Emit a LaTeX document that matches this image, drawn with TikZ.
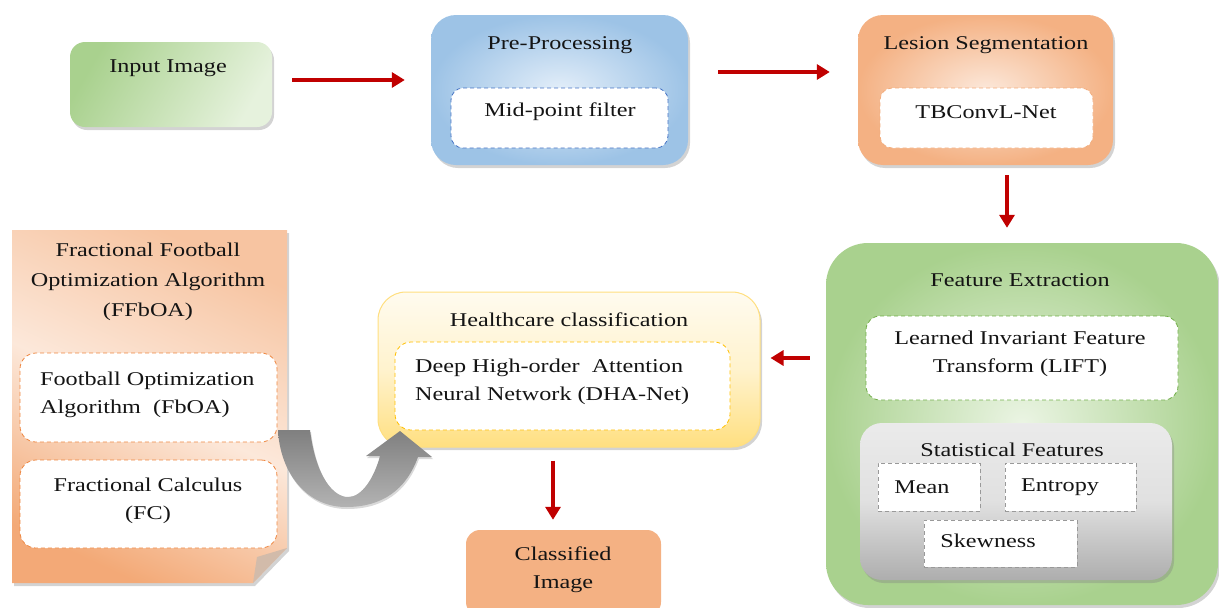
\documentclass[tikz,border=0pt]{standalone}
\usepackage{fontspec}
\setmainfont[FakeStretch=1.24]{Liberation Serif}
\usetikzlibrary{arrows.meta,shadows,calc}
\definecolor{gDark}{HTML}{A9D18E}
\definecolor{gLight}{HTML}{E6F2DD}
\definecolor{gLine}{HTML}{70AD47}
\definecolor{bDark}{HTML}{9DC3E6}
\definecolor{bLight}{HTML}{E3EEF9}
\definecolor{bLine}{HTML}{4472C4}
\definecolor{oDark}{HTML}{F4B183}
\definecolor{oLight}{HTML}{FCE8DA}
\definecolor{oLine}{HTML}{ED7D31}
\definecolor{yDark}{HTML}{FFDF80}
\definecolor{yLight}{HTML}{FFFBEF}
\definecolor{yLine}{HTML}{FFC000}
\definecolor{arrowRed}{HTML}{C00000}
\definecolor{flap}{HTML}{D2BBAA}
\newcommand{\fsz}{\fontsize{19.5}{28}\selectfont}
\tikzset{
  every node/.style={font=\fsz, text=black!92},
  shade/.style={drop shadow={opacity=0.35,shadow xshift=2pt,shadow yshift=-3pt}},
  bigbox/.style={shade, draw=none, inner sep=0pt},
  inner/.style={draw, dashed, line width=0.8pt, dash pattern=on 4pt off 3pt, fill=white, rounded corners=12pt, inner sep=0pt},
  redarrow/.style={draw=arrowRed, line width=4.5pt, -{Triangle[length=13pt,width=15pt]}, arrowRed},
  lbl/.style={inner sep=0pt, align=center}
}
\begin{document}
\begin{tikzpicture}[x=1pt,y=-1pt]
\useasboundingbox (0,0) rectangle (1219,608);
% Input image
\node[bigbox, rounded corners=15pt, minimum width=202pt, minimum height=85pt, left color=gDark, right color=gLight, shading angle=60] (inp) at (171,84.5) {};
\node[lbl] (inpT) at (168,68) {Input Image};
% Pre-processing
\node[bigbox, rounded corners=25pt, minimum width=257pt, minimum height=150pt, inner color=bLight, outer color=bDark] (pre) at (559.5,90) {};
\node[lbl] (preT) at (560,45) {Pre-Processing};
\node[inner, draw=bLine, minimum width=217pt, minimum height=60pt] (mid) at (559.5,118) {};
\node[lbl] (midT) at (560,112) {Mid-point filter};
% Lesion segmentation
\node[bigbox, rounded corners=25pt, minimum width=255pt, minimum height=150pt, inner color=oLight, outer color=oDark] (seg) at (985.5,90) {};
\node[lbl] (segT) at (986,45) {Lesion Segmentation};
\node[inner, draw=oDark!90!oLine, minimum width=213pt, minimum height=60pt] (tbc) at (986.5,118) {};
\node[lbl] (tbcT) at (986,112) {TBConvL-Net};
% Feature extraction
\node[bigbox, rounded corners=42pt, minimum width=392pt, minimum height=362pt, inner color=gLight!80!white, outer color=gDark] (fea) at (1022,424) {};
\node[lbl] (feaT) at (1020,280) {Feature Extraction};
\node[inner, draw=gLine, rounded corners=14pt, minimum width=312pt, minimum height=84pt] (lift) at (1022,358) {};
\node[lbl] (liftT) at (1020,353.5) {Learned Invariant Feature\\Transform (LIFT)};
\node[bigbox, rounded corners=22pt, minimum width=312pt, minimum height=157pt, top color=black!8, bottom color=black!32, middle color=black!12] (stat) at (1016,501.5) {};
\node[lbl] (statT) at (1012,450) {Statistical Features};
\node[draw=black!40, dashed, dash pattern=on 4pt off 3pt, line width=0.8pt, fill=white, minimum width=102pt, minimum height=48pt] (mean) at (929,487) {};
\node[lbl] (meanT) at (922,487) {Mean};
\node[draw=black!40, dashed, dash pattern=on 4pt off 3pt, line width=0.8pt, fill=white, minimum width=131pt, minimum height=48pt] (ent) at (1070.5,487) {};
\node[lbl] (entT) at (1060,487) {Entropy};
\node[draw=black!40, dashed, dash pattern=on 4pt off 3pt, line width=0.8pt, fill=white, minimum width=153pt, minimum height=47pt] (skw) at (1000.5,543.5) {};
\node[lbl] (skwT) at (988,541) {Skewness};
% Healthcare classification
\node[bigbox, draw=yDark, line width=1pt, rounded corners=28pt, minimum width=382pt, minimum height=155pt, top color=yLight, bottom color=yDark, middle color=yLight!70!yDark] (hc) at (569,369.5) {};
\node[lbl] (hcT) at (569,320) {Healthcare classification};
\node[inner, draw=yLine, rounded corners=16pt, minimum width=335pt, minimum height=88pt] (dha) at (562.5,386) {};
\node[lbl, align=left, anchor=west] (dhaT) at (415,382) {Deep High-order\ \ Attention\\Neural Network (DHA-Net)};
% Classified image
\node[draw=none, fill=oDark, rounded corners=14pt, minimum width=195pt, minimum height=86pt, inner sep=0pt] (cls) at (563.5,573) {};
\node[lbl] (clsT) at (563,570) {Classified\\Image};
% FFbOA note with folded corner
\path[shade, left color=oDark!65!oLight, right color=oDark!85!oLine, middle color=oLight, shading angle=-25]
  (12,230) -- (287,230) -- (287,548) -- (253,583) -- (12,583) -- cycle;
\fill[flap] (253,583) -- (257,557) -- (287,548) -- cycle;
\node[lbl, font=\fontsize{19.5}{30}\selectfont] (ffbT) at (148,282) {Fractional Football\\Optimization Algorithm\\(FFbOA)};
\node[inner, draw=oLine!80!oDark, rounded corners=16pt, minimum width=257pt, minimum height=89pt] (fbo) at (148.5,397.5) {};
\node[lbl, align=left, anchor=west] (fboT) at (40,395) {Football Optimization\\Algorithm\ \ (FbOA)};
\node[inner, draw=oLine!80!oDark, rounded corners=16pt, minimum width=257pt, minimum height=88pt] (fc) at (148.5,504) {};
\node[lbl] (fcT) at (148,501) {Fractional Calculus\\(FC)};
% gray curved arrow
\path[drop shadow={opacity=0.3,shadow xshift=1pt,shadow yshift=-2pt}, left color=black!50, right color=black!30, shading angle=0]
  (278,430) -- (310,430)
  .. controls (316,478) and (334,497) .. (348,497)
  .. controls (362,497) and (374,478) .. (380,456)
  -- (366,456) -- (400,431) -- (432,457) -- (418,457)
  .. controls (406,490) and (382,507) .. (346,507)
  .. controls (306,507) and (280,472) .. (278,430) -- cycle;
% red arrows
\draw[redarrow] ([xshift=20pt,yshift=4.5pt]inp.east) -- ([xshift=-26pt,yshift=4.5pt]inp.east -| pre.west);
\draw[redarrow] ([xshift=30pt,yshift=18pt]pre.east) -- ([xshift=-28pt,yshift=18pt]pre.east -| seg.west);
\draw[redarrow] ([xshift=21.5pt,yshift=-10pt]seg.south) -- ([xshift=21.5pt,yshift=15pt]seg.south |- fea.north);
\draw[redarrow] ([xshift=-16pt,yshift=66pt]fea.west) -- ([xshift=10pt,yshift=66pt]fea.west -| hc.east);
\draw[redarrow] ([xshift=-16pt,yshift=-13pt]hc.south) -- ([xshift=-16pt,yshift=10pt]hc.south |- cls.north);
\end{tikzpicture}
\end{document}
